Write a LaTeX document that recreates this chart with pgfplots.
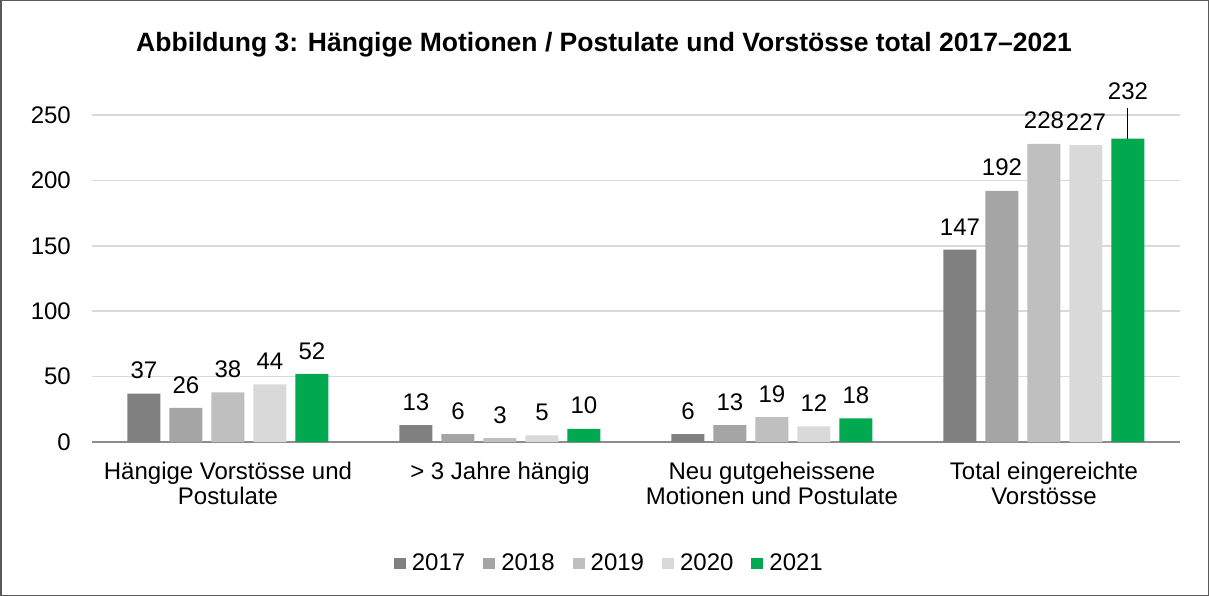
\documentclass[border=0pt]{standalone}
\usepackage{pgfplots}
\pgfplotsset{compat=1.18}
\usepackage{fontspec}
\setmainfont{Liberation Sans}
\definecolor{c17}{HTML}{808080}
\definecolor{c18}{HTML}{A5A5A5}
\definecolor{c19}{HTML}{BFBFBF}
\definecolor{c20}{HTML}{D9D9D9}
\definecolor{c21}{HTML}{00A84F}
\definecolor{gridc}{HTML}{D9D9D9}
\definecolor{axisc}{HTML}{8C8C8C}
\definecolor{framec}{HTML}{595959}
\begin{document}
\fontsize{24}{24.5}\selectfont
\begin{tikzpicture}
\path[use as bounding box] (0pt,0pt) rectangle (1209pt,-596pt);
\draw[framec, line width=1.5pt] (0.75pt,-0.75pt) rectangle (1208.25pt,-595.25pt);
\node[font=\fontsize{26.5}{30}\selectfont\bfseries] at (604pt,-45pt) {Abbildung 3: Hängige Motionen / Postulate und Vorstösse total 2017–2021};
\begin{axis}[
  at={(92pt,-442pt)}, anchor=south west,
  scale only axis, width=1088pt, height=327pt,
  clip=false,
  ymin=0, ymax=250, xmin=-0.5, xmax=3.5,
  ybar=9pt, bar width=33pt,
  axis x line*=bottom, axis y line*=left,
  y axis line style={draw=none},
  x axis line style={draw=axisc, line width=1.5pt},
  major tick length=0pt,
  ytick={0,50,100,150,200,250},
  ymajorgrids, grid style={draw=gridc, line width=1.5pt},
  /pgf/number format/assume math mode=true,
  yticklabel style={anchor=east, inner sep=0pt, xshift=-21pt},
  xtick={0,1,2,3},
  xticklabels={Hängige Vorstösse und\\Postulate, {> 3 Jahre hängig}, Neu gutgeheissene\\Motionen und Postulate, Total eingereichte\\Vorstösse},
  xticklabel style={align=center, anchor=north, inner sep=0pt, yshift=-20pt},
  nodes near coords,
  nodes near coords style={anchor=south, inner sep=0pt, yshift=14.5pt, black},
  legend image code/.code={\fill[#1] (0pt,-5.5pt) rectangle (12pt,5.5pt); \path (15pt,0pt);},
  legend style={at={(0.476,-0.372)}, anchor=center, draw=none, fill=none, legend columns=5,
    nodes={inner sep=3pt},
    /tikz/every even column/.append style={column sep=15pt}},
]
\addplot[fill=c17, draw=none] coordinates {(0,37) (1,13) (2,6) (3,147)};
\addplot[fill=c18, draw=none] coordinates {(0,26) (1,6) (2,13) (3,192)};
\addplot[fill=c19, draw=none] coordinates {(0,38) (1,3) (2,19) (3,228)};
\addplot[fill=c20, draw=none] coordinates {(0,44) (1,5) (2,12) (3,227)};
\addplot[fill=c21, draw=none, point meta=explicit symbolic] coordinates {(0,52) [52] (1,10) [10] (2,18) [18] (3,232) []};
\legend{2017,2018,2019,2020,2021}
\draw[black, line width=1pt] ([xshift=84pt]axis cs:3,232) -- ++(0pt,31pt);
\node[anchor=south, inner sep=0pt, black] at ([xshift=84pt, yshift=39pt]axis cs:3,232) {232};
\end{axis}
\end{tikzpicture}
\end{document}
